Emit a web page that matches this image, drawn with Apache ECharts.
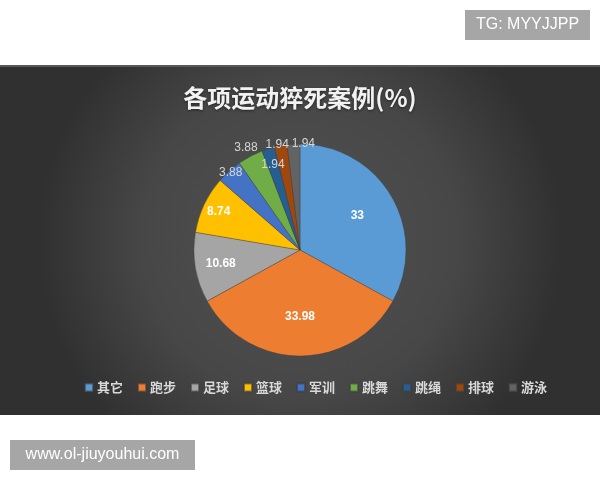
<!DOCTYPE html>
<html>
<head>
<meta charset="utf-8">
<script src="https://cdn.jsdelivr.net/npm/echarts@6/dist/echarts.min.js"></script>
<style>
html,body{margin:0;padding:0;background:#fff;}
#main{width:600px;height:480px;}
</style>
</head>
<body>
<div id="main"></div>
<script>
// ---- data ----
const categories = ['其它', '跑步', '足球', '篮球', '军训', '跳舞', '跳绳', '排球', '游泳'];
const values = [33, 33.98, 10.68, 8.74, 3.88, 3.88, 1.94, 1.94, 1.94];
const titleText = '各项运动猝死案例(%)';

// ---- styling (not data) ----
const colors = ['#5B9BD5', '#ED7D31', '#A5A5A5', '#FFC000', '#4472C4', '#70AD47', '#255E91', '#9E480E', '#636363'];
const labelRadiusFrac = [0.6, 0.6, 0.73, 0.82, 0.95, 1.06, 0.82, 1.0, 1.0];
const labelNudge = [[0, 0], [0, 0], [0, 0], [0, 0], [0, 0], [0, 0], [0, 0], [-3, 2], [10, 2]];
const labelBold = [true, true, true, true, false, false, false, false, false];
const R = 106;
const CX = 300, CY = 250;

const chart = echarts.init(document.getElementById('main'), null, {renderer: 'canvas'});

const series = [{
  type: 'pie',
  name: 'main',
  center: [CX, CY],
  radius: [0, R],
  startAngle: 90,
  clockwise: true,
  silent: true,
  label: {show: false},
  labelLine: {show: false},
  itemStyle: {borderColor: 'rgba(60,60,60,0.6)', borderWidth: 0.6},
  data: categories.map((c, i) => ({name: c, value: values[i], itemStyle: {color: colors[i]}}))
}];

categories.forEach((c, k) => {
  const lr = labelRadiusFrac[k] * R;
  series.push({
    type: 'pie',
    name: 'label' + k,
    center: [CX, CY],
    radius: [lr - 1, lr + 1],
    startAngle: 90,
    clockwise: true,
    silent: true,
    z: 5,
    legendHoverLink: false,
    labelLayout: {hideOverlap: false},
    labelLine: {show: false},
    itemStyle: {color: 'rgba(0,0,0,0)', borderWidth: 0},
    emphasis: {disabled: true},
    data: categories.map((cc, i) => ({
      name: cc,
      value: values[i],
      label: {
        show: i === k,
        position: 'inside',
        offset: labelNudge[i],
        formatter: String(values[i]),
        color: labelBold[i] ? '#ffffff' : '#d6d6d6',
        fontWeight: labelBold[i] ? 'bold' : 'normal',
        fontSize: 12,
        fontFamily: 'Liberation Sans, Arial, sans-serif'
      }
    }))
  });
});

const option = {
  animation: false,
  backgroundColor: '#ffffff',
  color: colors,
  graphic: [
    {
      type: 'rect', z: -10, silent: true,
      shape: {x: 0, y: 65, width: 600, height: 350},
      style: {
        fill: {
          type: 'radial', x: 0.5, y: 0.5, r: 0.75,
          colorStops: [{offset: 0, color: '#515151'}, {offset: 0.6, color: '#474747'}, {offset: 1, color: '#303030'}]
        }
      }
    },
    {
      type: 'rect', z: -9, silent: true,
      shape: {x: 0, y: 65, width: 600, height: 2},
      style: {fill: '#585858'}
    },
    {
      type: 'group', left: 465, top: 10,
      children: [
        {type: 'rect', shape: {x: 0, y: 0, width: 125, height: 30}, style: {fill: '#a6a6a6'}},
        {type: 'text', x: 62.5, y: 15, style: {text: 'TG: MYYJJPP', fill: '#ffffff', font: '16px "Liberation Sans", Arial, sans-serif', align: 'center', verticalAlign: 'middle'}}
      ]
    },
    {
      type: 'group', left: 10, top: 440,
      children: [
        {type: 'rect', shape: {x: 0, y: 0, width: 185, height: 30}, style: {fill: '#a6a6a6'}},
        {type: 'text', x: 92.5, y: 15, style: {text: 'www.ol-jiuyouhui.com', fill: '#ffffff', font: '16px "Liberation Sans", Arial, sans-serif', align: 'center', verticalAlign: 'middle'}}
      ]
    }
  ],
  title: {
    text: titleText,
    left: 'center',
    top: 81,
    textStyle: {
      color: '#f2f2f2',
      fontSize: 24,
      fontWeight: 'bold',
      fontFamily: '"Noto Sans CJK SC", sans-serif',
      textShadowColor: 'rgba(0,0,0,0.5)',
      textShadowBlur: 3,
      textShadowOffsetY: 1
    }
  },
  legend: {
    data: categories,
    left: 79,
    top: 376,
    icon: 'rect',
    itemWidth: 8,
    itemHeight: 8,
    itemGap: 14,
    selectedMode: false,
    textStyle: {
      color: '#d9d9d9',
      fontSize: 13,
      fontWeight: 'bold',
      fontFamily: '"Noto Sans CJK SC", sans-serif',
      padding: [0, 0, 0, -1]
    }
  },
  series: series
};

chart.setOption(option);
</script>
</body>
</html>
